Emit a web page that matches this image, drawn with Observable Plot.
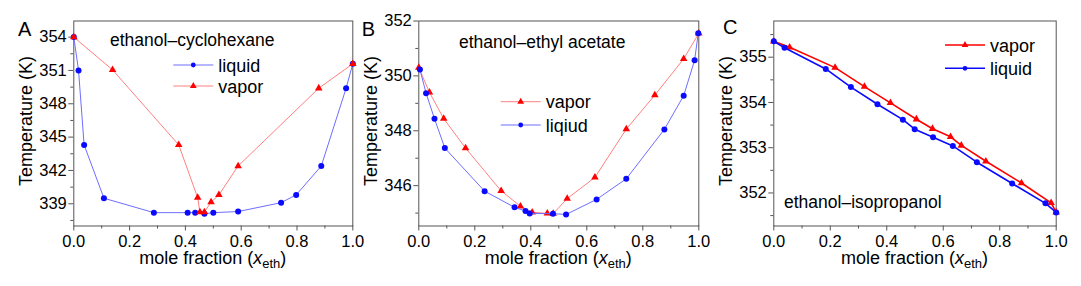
<!DOCTYPE html>
<html><head><meta charset="utf-8">
<script src="https://cdn.jsdelivr.net/npm/d3@7"></script>
<script src="https://cdn.jsdelivr.net/npm/@observablehq/plot@0.6"></script>
<style>
body{margin:0;background:#fff;}
#wrap{position:relative;width:1081px;height:286px;overflow:hidden;font-family:"Liberation Sans",Arial,sans-serif;}
.panel{position:absolute;top:0;}
</style></head><body><div id="wrap"></div>
<script>
// shared x ticks
const xMajor = [0, 0.2, 0.4, 0.6, 0.8, 1.0];
const xMinor = [0.1, 0.3, 0.5, 0.7, 0.9];

// Panel A: ethanol–cyclohexane
const aLiquidX = [0, 0.017, 0.037, 0.108, 0.287, 0.408, 0.435, 0.468, 0.5, 0.589, 0.743, 0.797, 0.887, 0.976, 1.0];
const aLiquidT = [354, 351.0, 344.3, 339.5, 338.2, 338.2, 338.2, 338.1, 338.2, 338.3, 339.1, 339.8, 342.4, 349.4, 351.6];
const aVaporX = [0, 0.139, 0.376, 0.444, 0.452, 0.468, 0.492, 0.52, 0.589, 0.878, 1.0];
const aVaporT = [354, 351.05, 344.3, 339.55, 338.25, 338.25, 339.15, 339.8, 342.4, 349.4, 351.6];
const aYMajor = [339, 342, 345, 348, 351, 354];
const aYMinor = [337.5, 340.5, 343.5, 346.5, 349.5, 352.5];

// Panel B: ethanol–ethyl acetate
const bLiquidX = [0.004, 0.026, 0.056, 0.093, 0.235, 0.342, 0.381, 0.396, 0.479, 0.526, 0.635, 0.741, 0.877, 0.946, 0.985, 0.998];
const bLiquidT = [350.23, 349.37, 348.44, 347.37, 345.8, 345.21, 345.08, 344.99, 344.98, 344.95, 345.5, 346.25, 348.05, 349.28, 350.57, 351.55];
const bVaporX = [0.0, 0.038, 0.089, 0.167, 0.294, 0.363, 0.405, 0.459, 0.48, 0.53, 0.629, 0.741, 0.843, 0.946, 1.0];
const bVaporT = [350.3, 349.4, 348.44, 347.37, 345.81, 345.25, 345.03, 344.99, 344.98, 345.53, 346.3, 348.06, 349.3, 350.62, 351.55];
const bYMajor = [346, 348, 350, 352];
const bYMinor = [345, 347, 349, 351];

// Panel C: ethanol–isopropanol
const cLiquidX = [0.0, 0.038, 0.184, 0.273, 0.367, 0.457, 0.499, 0.564, 0.634, 0.719, 0.844, 0.962, 1.0];
const cLiquidT = [355.35, 355.21, 354.74, 354.34, 353.96, 353.62, 353.41, 353.23, 353.04, 352.68, 352.21, 351.77, 351.57];
const cVaporX = [0.0, 0.056, 0.217, 0.321, 0.413, 0.505, 0.562, 0.626, 0.664, 0.751, 0.877, 0.982, 1.0];
const cVaporT = [355.35, 355.22, 354.77, 354.35, 353.99, 353.63, 353.42, 353.24, 353.05, 352.7, 352.22, 351.78, 351.57];
const cYMajor = [352, 353, 354, 355];
const cYMinor = [351.5, 352.5, 353.5, 354.5, 355.5];

const rows = (xs, ts) => xs.map((x, i) => ({x, T: ts[i]}));
const FONT = '"Liberation Sans", Arial, sans-serif';
const BLUE = "#0a0aff", RED = "#ff0000";

function panel(o) {
  const H = 286, mt = 20.5, mb = 60.5;
  const marks = [
    Plot.axisX(xMajor, {tickSize: 5, tickPadding: 4, tickFormat: d3.format(".1f"), label: null, stroke: "#555", fill: "#000"}),
    Plot.axisX(xMinor, {tickSize: 3, label: null, stroke: "#555", fill: "none"}),
    Plot.axisY(o.yMajor, {tickSize: 5, tickPadding: 2, tickFormat: d3.format("d"), label: null, stroke: "#555", fill: "#000"}),
    Plot.axisY(o.yMinor, {tickSize: 3, label: null, stroke: "#555", fill: "none"}),
    Plot.frame({stroke: "#555"})
  ];
  for (const s of o.series) {
    marks.push(Plot.line(s.data, {x: "x", y: "T", stroke: s.line, strokeWidth: s.lw}));
    marks.push(Plot.dot(s.data, {x: "x", y: "T", fill: s.color, symbol: s.symbol, r: s.symbol === "triangle" ? 2.8 : 3}));
  }
  const svg = Plot.plot({
    width: o.width, height: H, marginTop: mt, marginBottom: mb, marginLeft: o.ml, marginRight: o.mr,
    style: {fontFamily: FONT, fontSize: "16.5px", background: "transparent", overflow: "visible", color: "#000"},
    x: {domain: [0, 1]},
    y: {domain: o.yDomain},
    marks
  });
  const g = d3.select(svg).append("g").attr("font-family", FONT).attr("fill", "#000").attr("text-anchor", "start");
  const cx = o.ml + (o.width - o.ml - o.mr) / 2;
  // x label
  const t = g.append("text").attr("x", cx).attr("y", 264).attr("text-anchor", "middle").attr("font-size", 18);
  t.append("tspan").text("mole fraction (");
  t.append("tspan").attr("font-style", "italic").text("x");
  t.append("tspan").attr("font-size", 13).attr("dy", 4).text("eth");
  t.append("tspan").attr("dy", -4).text(")");
  // y label
  g.append("text").attr("transform", `translate(${o.ml - 41},121) rotate(-90)`)
    .attr("text-anchor", "middle").attr("font-size", 18).text("Temperature (K)");
  // panel letter
  g.append("text").attr("x", o.letterX).attr("y", o.letterY).attr("font-size", 20).text(o.letter);
  // title
  g.append("text").attr("x", o.titleX).attr("y", o.titleY).attr("font-size", 17.5).text(o.title);
  // legend
  for (const e of o.legend) {
    const lg = g.append("g");
    lg.append("line").attr("x1", e.x).attr("x2", e.x + 40).attr("y1", e.y).attr("y2", e.y)
      .attr("stroke", e.line).attr("stroke-width", e.lw);
    const sym = e.symbol === "triangle" ? d3.symbolTriangle : d3.symbolCircle;
    lg.append("path").attr("d", d3.symbol(sym, e.symbol === "triangle" ? 20 : 18)())
      .attr("transform", `translate(${e.x + 20},${e.y})`).attr("fill", e.color);
    lg.append("text").attr("x", e.x + 45).attr("y", e.y + 6.5).attr("font-size", 18).text(e.label);
  }
  const div = document.createElement("div");
  div.className = "panel";
  div.style.left = o.left + "px";
  div.style.width = o.width + "px";
  div.appendChild(svg);
  document.getElementById("wrap").appendChild(div);
}

const lightBlue = "#6e6eff", lightRed = "#ff8080";

panel({
  left: 0, width: 358, ml: 73.3, mr: 5.7, yDomain: [337, 355.45], yMajor: aYMajor, yMinor: aYMinor,
  series: [
    {data: rows(aLiquidX, aLiquidT), line: lightBlue, lw: 1, color: BLUE, symbol: "circle"},
    {data: rows(aVaporX, aVaporT), line: lightRed, lw: 1, color: RED, symbol: "triangle"}
  ],
  letter: "A", letterX: 18, letterY: 36,
  title: "ethanol–cyclohexane", titleX: 110, titleY: 46,
  legend: [
    {label: "liquid", x: 173.3, y: 65, line: lightBlue, lw: 1, color: BLUE, symbol: "circle"},
    {label: "vapor", x: 173.3, y: 86, line: lightRed, lw: 1, color: RED, symbol: "triangle"}
  ]
});

panel({
  left: 358, width: 352, ml: 60.3, mr: 11.7, yDomain: [344.53, 352], yMajor: bYMajor, yMinor: bYMinor,
  series: [
    {data: rows(bVaporX, bVaporT), line: lightRed, lw: 1, color: RED, symbol: "triangle"},
    {data: rows(bLiquidX, bLiquidT), line: lightBlue, lw: 1, color: BLUE, symbol: "circle"}
  ],
  letter: "B", letterX: 3.7, letterY: 36,
  title: "ethanol–ethyl acetate", titleX: 101, titleY: 48,
  legend: [
    {label: "vapor", x: 142.7, y: 101.7, line: lightRed, lw: 1, color: RED, symbol: "triangle"},
    {label: "liqiud", x: 142.7, y: 125, line: lightBlue, lw: 1, color: BLUE, symbol: "circle"}
  ]
});

panel({
  left: 710, width: 371, ml: 63.3, mr: 25.3, yDomain: [351.27, 355.8], yMajor: cYMajor, yMinor: cYMinor,
  series: [
    {data: rows(cVaporX, cVaporT), line: RED, lw: 1.6, color: RED, symbol: "triangle"},
    {data: rows(cLiquidX, cLiquidT), line: BLUE, lw: 1.6, color: BLUE, symbol: "circle"}
  ],
  letter: "C", letterX: 13, letterY: 34,
  title: "ethanol–isopropanol", titleX: 74, titleY: 207.5,
  legend: [
    {label: "vapor", x: 235, y: 45, line: RED, lw: 1.6, color: RED, symbol: "triangle"},
    {label: "liquid", x: 235, y: 68.3, line: BLUE, lw: 1.6, color: BLUE, symbol: "circle"}
  ]
});
</script></body></html>
